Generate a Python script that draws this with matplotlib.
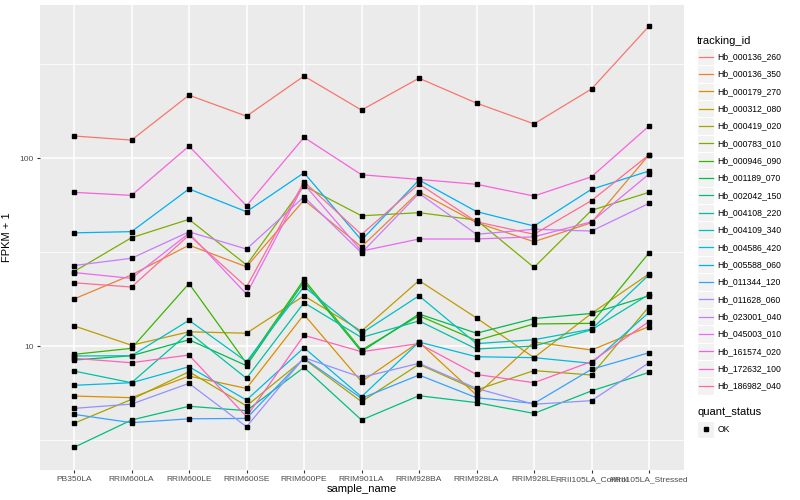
import matplotlib
matplotlib.use('Agg')
import matplotlib.pyplot as plt
from matplotlib.patches import Rectangle
from matplotlib.lines import Line2D

plt.rcParams['font.family'] = ['Liberation Sans', 'DejaVu Sans']

# sample names on the x axis
samples = ['PB350LA', 'RRIM600LA', 'RRIM600LE', 'RRIM600SE', 'RRIM600PE', 'RRIM901LA',
           'RRIM928BA', 'RRIM928LA', 'RRIM928LE', 'RRII105LA_Control', 'RRII105LA_Stressed']

# FPKM + 1 per gene
hb_000136_260 = [131, 124.6, 216, 167, 273, 180, 266, 196, 152, 233, 503]
hb_000136_350 = [17.8, 23.9, 34.4, 26.4, 59.8, 33.7, 66.2, 45.3, 35.9, 45.3, 104]
hb_000179_270 = [5.42, 5.31, 6.92, 5.95, 14.7, 6.46, 10.5, 5.48, 10.5, 9.52, 12.7]
hb_000312_080 = [12.8, 10.1, 11.9, 11.7, 18.5, 12.0, 22.3, 14.1, 8.67, 14.9, 24.2]
hb_000419_020 = [3.88, 5.20, 7.30, 4.80, 8.53, 5.06, 7.99, 5.84, 7.40, 7.01, 16.2]
hb_000783_010 = [24.9, 37.7, 47.2, 27.0, 71.2, 49.3, 51.2, 46.8, 26.2, 52.7, 65.7]
hb_000946_090 = [9.03, 9.72, 21.5, 8.09, 22.6, 9.52, 14.5, 10.7, 13.1, 13.2, 31.3]
hb_001189_070 = [8.42, 8.88, 10.8, 7.86, 22.0, 9.33, 14.8, 11.7, 14.0, 14.9, 18.5]
hb_002042_150 = [2.89, 4.04, 4.78, 4.53, 7.70, 4.04, 5.44, 5.00, 4.38, 5.77, 7.24]
hb_004108_220 = [7.36, 6.38, 11.8, 6.73, 17.0, 11.1, 13.6, 9.64, 10.0, 12.2, 18.8]
hb_004109_340 = [8.85, 8.88, 13.7, 8.26, 20.7, 11.7, 18.5, 10.3, 10.8, 12.3, 23.9]
hb_004586_420 = [6.18, 6.38, 7.76, 5.16, 9.80, 5.37, 10.5, 8.77, 8.67, 8.09, 15.1]
hb_005588_060 = [40.0, 40.6, 68.5, 51.8, 83.5, 36.6, 76.4, 51.9, 43.5, 68.2, 85.3]
hb_011344_120 = [4.33, 3.91, 4.10, 4.12, 8.60, 5.27, 7.01, 5.31, 4.95, 7.52, 9.21]
hb_011628_060 = [4.66, 4.91, 6.33, 3.72, 8.67, 6.81, 8.09, 5.95, 4.90, 5.12, 8.15]
hb_023001_040 = [26.8, 29.3, 40.5, 32.8, 62.2, 31.3, 64.9, 39.3, 41.8, 40.9, 57.4]
hb_045003_010 = [24.6, 22.9, 39.8, 18.9, 72.7, 32.0, 37.1, 37.1, 38.1, 45.8, 82.2]
hb_161574_020 = [65.7, 63.3, 115.8, 55.7, 128.8, 81.5, 77.0, 72.5, 62.8, 79.5, 148]
hb_172632_100 = [8.6, 8.15, 8.96, 4.21, 11.4, 9.33, 10.3, 7.06, 6.38, 8.26, 13.5]
hb_186982_040 = [21.7, 20.6, 38.9, 20.6, 74.8, 39.2, 72.8, 45.8, 39.3, 59.4, 104]

tracking_ids = ['Hb_000136_260', 'Hb_000136_350', 'Hb_000179_270', 'Hb_000312_080',
                'Hb_000419_020', 'Hb_000783_010', 'Hb_000946_090', 'Hb_001189_070',
                'Hb_002042_150', 'Hb_004108_220', 'Hb_004109_340', 'Hb_004586_420',
                'Hb_005588_060', 'Hb_011344_120', 'Hb_011628_060', 'Hb_023001_040',
                'Hb_045003_010', 'Hb_161574_020', 'Hb_172632_100', 'Hb_186982_040']
series = [hb_000136_260, hb_000136_350, hb_000179_270, hb_000312_080, hb_000419_020,
          hb_000783_010, hb_000946_090, hb_001189_070, hb_002042_150, hb_004108_220,
          hb_004109_340, hb_004586_420, hb_005588_060, hb_011344_120, hb_011628_060,
          hb_023001_040, hb_045003_010, hb_161574_020, hb_172632_100, hb_186982_040]

# ggplot hue palette for 20 groups
palette = ['#F8766D', '#EA8331', '#D89000', '#C09B00', '#A3A500', '#7CAE00', '#39B600',
           '#00BB4E', '#00BF7D', '#00C1A3', '#00BFC4', '#00BAE0', '#00B0F6', '#35A2FF',
           '#9590FF', '#C77CFF', '#E76BF3', '#FA62DB', '#FF62BC', '#FF6C91']

W, H = 800, 500
fig = plt.figure(figsize=(8, 5), dpi=100)
ax = fig.add_axes([39.5 / W, 1 - 470 / H, 644 / W, 465 / H])
ax.set_facecolor('#EBEBEB')
for s in ax.spines.values():
    s.set_visible(False)

x = list(range(len(samples)))
for vals, col in zip(series, palette):
    ax.plot(x, vals, color=col, lw=0.9, zorder=3)
for vals in series:
    ax.plot(x, vals, ls='none', marker='s', ms=2.2, color='black', zorder=4)

ax.set_yscale('log')
ax.set_ylim(2.19, 652)
ax.set_xlim(-0.6, len(samples) - 0.4)

ax.set_yticks([10, 100])
ax.set_yticklabels(['10', '100'])
ax.set_yticks([10 ** 0.5, 10 ** 1.5, 10 ** 2.5], minor=True)
ax.yaxis.set_minor_formatter(plt.NullFormatter())
ax.set_xticks(x)
ax.set_xticklabels(samples)

ax.grid(which='major', color='white', lw=1.1, zorder=1)
ax.grid(which='minor', axis='y', color='white', lw=0.55, zorder=1)
ax.set_axisbelow(True)
ax.tick_params(which='major', length=2.2, width=0.8, color='#333333',
               labelcolor='#4D4D4D', labelsize=6.0, pad=2)
ax.tick_params(which='minor', length=0)

ax.set_xlabel('sample_name', fontsize=8, color='black')
ax.xaxis.set_label_coords(0.5, -0.03)
ax.set_ylabel('FPKM + 1', fontsize=8, color='black')
ax.yaxis.set_label_coords(-0.043, 0.5)

# legend drawn in pixel coordinates
lax = fig.add_axes([0, 0, 1, 1], zorder=5)
lax.set_xlim(0, W)
lax.set_ylim(H, 0)
lax.axis('off')
lax.text(697, 40.5, 'tracking_id', fontsize=8, va='center', ha='left')
for i, (name, col) in enumerate(zip(tracking_ids, palette)):
    yc = 56.7 + i * 17.33
    lax.add_patch(Rectangle((697, yc - 8.6), 17.2, 17.2, facecolor='#F2F2F2',
                            edgecolor='white', lw=0.8))
    lax.add_line(Line2D([698.5, 712.5], [yc, yc], color=col, lw=0.9))
    lax.text(717.5, yc, name, fontsize=6.2, va='center', ha='left')

lax.text(697, 412.3, 'quant_status', fontsize=8, va='center', ha='left')
lax.add_patch(Rectangle((697, 429.3 - 8.6), 17.2, 17.2, facecolor='#F2F2F2',
                        edgecolor='white', lw=0.8))
lax.plot([705.6], [429.3], marker='s', ms=2.2, color='black')
lax.text(717.5, 429.3, 'OK', fontsize=6.2, va='center', ha='left')

fig.savefig('out.png', dpi=100)
